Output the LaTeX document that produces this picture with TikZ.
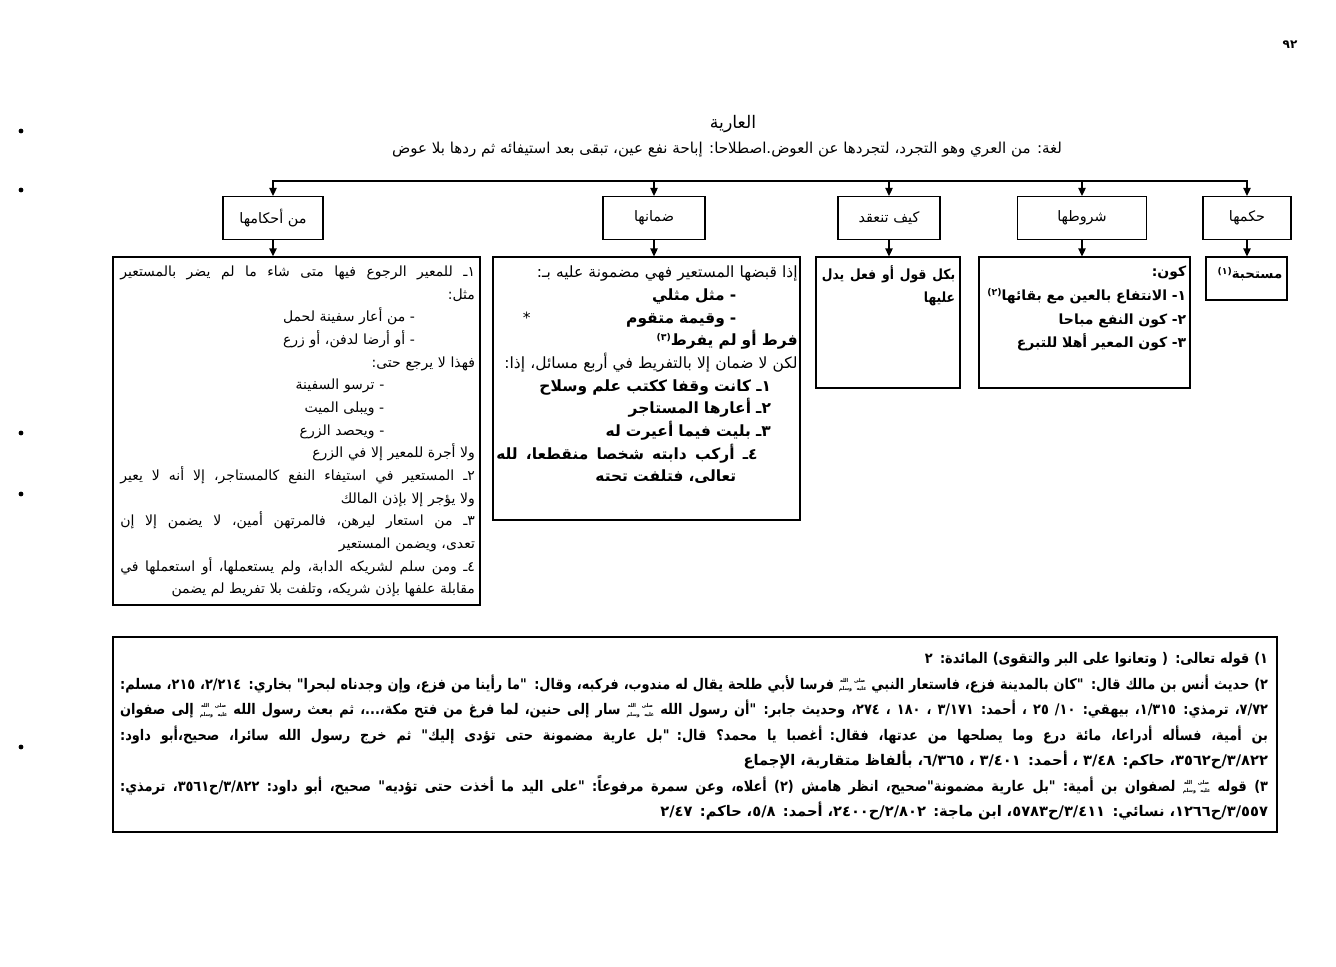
\documentclass[tikz,border=0pt]{standalone}
\usepackage{fontspec}
\usetikzlibrary{arrows.meta}
\TeXXeTstate=1
\newfontfamily\arabicfont[Script=Arabic]{DejaVu Sans}
\newfontfamily\notefont[Script=Arabic,FakeStretch=0.88]{DejaVu Sans}
\newcommand{\ar}[1]{\beginR #1\endR}
\newcommand{\arfull}[1]{\noindent\hbox to \hsize{\spaceskip=\fontdimen2\font plus 1fil\relax\beginR #1\endR}}
\newcommand{\fnmark}[1]{\raisebox{0.6ex}{\scriptsize(#1)}}
\newcommand{\saw}{\raisebox{-0.2ex}{\fontsize{4}{4.3}\selectfont\shortstack{\ar{صلى الله}\\\ar{عليه وسلم}}}}

\begin{document}
\begin{tikzpicture}[x=0.75pt,y=-0.75pt,
    headbox/.style={draw,line width=1.1pt,minimum height=32pt,inner sep=0pt,
      font=\arabicfont\fontsize{10.8}{12}\selectfont},
    framebox/.style={draw,line width=1.1pt,inner sep=0pt},
    boxtext/.style={anchor=north east,inner sep=0pt,align=right,
      font=\arabicfont\fontsize{10.5}{17}\selectfont},
    arr/.style={line width=1.1pt,-{Triangle[length=6pt,width=5.5pt]}}]
  \useasboundingbox (0,0) rectangle (1336,967);

  \foreach \y in {131,190,433,494,747}
    \fill (21,\y) circle (1.8pt);

  \node[font=\arabicfont\bfseries\fontsize{9}{10}\selectfont] (pagenum) at (1290,45) {٩٢};
  \node[font=\arabicfont\fontsize{13}{15}\selectfont] (title) at (733,124) {\ar{العارية}};
  \node[font=\arabicfont\fontsize{11.3}{13}\selectfont] (defline) at (727,150)
    {\ar{لغة: من العري وهو التجرد، لتجردها عن العوض.اصطلاحا: إباحة نفع عين، تبقى بعد استيفائه ثم ردها بلا عوض}};

  \node[headbox,minimum width=75pt] (ahkam) at (273,218) {\ar{من أحكامها}};
  \node[headbox,minimum width=76.5pt] (daman) at (654,218) {\ar{ضمانها}};
  \node[headbox,minimum width=76.5pt] (keef) at (889,218) {\ar{كيف تنعقد}};
  \node[headbox,minimum width=97pt] (shurut) at (1082,218) {\ar{شروطها}};
  \node[headbox,minimum width=66pt] (hukm) at (1247,218) {\ar{حكمها}};

  \coordinate (barwest) at (273,181);
  \coordinate (bareast) at (1247,181);
  \draw[line width=1.1pt,line cap=rect] (barwest) -- (bareast);

  \node[framebox,minimum width=275pt,minimum height=261pt] (ahkam-box) at (296.5,431) {};
  \node[framebox,minimum width=230pt,minimum height=197pt] (daman-box) at (646.5,388.5) {};
  \node[framebox,minimum width=108pt,minimum height=98pt] (keef-box) at (888,322.5) {};
  \node[framebox,minimum width=158pt,minimum height=98pt] (shurut-box) at (1084.5,322.5) {};
  \node[framebox,minimum width=61pt,minimum height=32pt] (hukm-box) at (1246.5,278.5) {};
  \node[framebox,minimum width=873pt,minimum height=146pt] (notes-box) at (695,734.5) {};

  \foreach \b in {ahkam,daman,keef,shurut,hukm}{
    \draw[arr] (\b.north |- barwest) -- (\b.north);
    \draw[arr] (\b.south) -- (\b.south |- \b-box.north);
  }

  \node[boxtext,text width=266pt] (ahkam-text) at ([xshift=-4pt,yshift=-7pt]ahkam-box.north east) {%
    \arfull{١ـ للمعير الرجوع فيها متى شاء ما لم يضر بالمستعير}\\
    \ar{مثل:}\\
    \ar{- من أعار سفينة لحمل}\kern45pt\\
    \ar{- أو أرضا لدفن، أو زرع}\kern45pt\\
    \ar{فهذا لا يرجع حتى:}\\
    \ar{- ترسو السفينة}\kern68pt\\
    \ar{- ويبلى الميت}\kern68pt\\
    \ar{- ويحصد الزرع}\kern68pt\\
    \ar{ولا أجرة للمعير إلا في الزرع}\\
    \arfull{٢ـ المستعير في استيفاء النفع كالمستاجر، إلا أنه لا يعير}\\
    \ar{ولا يؤجر إلا بإذن المالك}\\
    \arfull{٣ـ من استعار ليرهن، فالمرتهن أمين، لا يضمن إلا إن}\\
    \ar{تعدى، ويضمن المستعير}\\
    \arfull{٤ـ ومن سلم لشريكه الدابة، ولم يستعملها، أو استعملها في}\\
    \ar{مقابلة علفها بإذن شريكه، وتلفت بلا تفريط لم يضمن}};

  \node[boxtext,text width=226pt,font=\arabicfont\fontsize{11.6}{17}\selectfont]
    (daman-text) at ([xshift=-2pt,yshift=-7pt]daman-box.north east) {%
    \ar{إذا قبضها المستعير فهي مضمونة عليه بـ:}\\
    \textbf{\ar{- مثل مثلي}}\kern46pt\\
    \arfull{\hspace*{46pt}\textbf{- وقيمة متقوم}\hfill *\hspace*{20pt}}\\
    \textbf{\ar{فرط أو لم يفرط\fnmark{٣}}}\\
    \ar{لكن لا ضمان إلا بالتفريط في أربع مسائل، إذا:}\\
    \textbf{\ar{١ـ كانت وقفا ككتب علم وسلاح}}\kern20pt\\
    \textbf{\ar{٢ـ أعارها المستاجر}}\kern20pt\\
    \textbf{\ar{٣ـ بليت فيما أعيرت له}}\kern20pt\\
    \arfull{\hspace*{30pt}\textbf{٤ـ أركب دابته شخصا منقطعا، لله}}\\
    \textbf{\ar{تعالى، فتلفت تحته}}\kern46pt};

  \node[boxtext,text width=100pt,font=\notefont\bfseries\fontsize{10.5}{17}\selectfont]
    (keef-text) at ([xshift=-4pt,yshift=-7pt]keef-box.north east) {%
    \arfull{بكل قول أو فعل يدل}\\
    \ar{عليها}};

  \node[boxtext,text width=150pt,font=\arabicfont\bfseries\fontsize{10.5}{17.8}\selectfont]
    (shurut-text) at ([xshift=-3pt,yshift=-7pt]shurut-box.north east) {%
    \ar{كون:}\\
    \ar{١- الانتفاع بالعين مع بقائها\fnmark{٢}}\\
    \ar{٢- كون النفع مباحا}\\
    \ar{٣- كون المعير أهلا للتبرع}};

  \node[boxtext,font=\arabicfont\bfseries\fontsize{10}{12}\selectfont]
    (hukm-text) at ([xshift=-4pt,yshift=-8pt]hukm-box.north east) {\ar{مستحبة\fnmark{١}}};

  \node[boxtext,text width=861pt,font=\notefont\bfseries\fontsize{11}{19.1}\selectfont]
    (notes-text) at ([xshift=-7pt,yshift=-12pt]notes-box.north east) {%
    \ar{١) قوله تعالى: ( وتعانوا على البر والتقوى) المائدة: ٢}\\
    \arfull{٢) حديث أنس بن مالك قال: "كان بالمدينة فزع، فاستعار النبي \saw{} فرسا لأبي طلحة يقال له مندوب، فركبه، وقال: "ما رأينا من فزع، وإن وجدناه لبحرا" بخاري: ٢/٢١٤، ٢١٥، مسلم:}\\
    \arfull{٧/٧٢، ترمذي: ١/٣١٥، بيهقي: ١٠/ ٢٥ ، أحمد: ٣/١٧١ ، ١٨٠ ، ٢٧٤، وحديث جابر: "أن رسول الله \saw{} سار إلى حنين، لما فرغ من فتح مكة،...، ثم بعث رسول الله \saw{} إلى صفوان}\\
    \arfull{بن أمية، فسأله أدراعا، مائة درع وما يصلحها من عدتها، فقال: أغصبا يا محمد؟ قال: "بل عارية مضمونة حتى تؤدى إليك" ثم خرج رسول الله سائرا، صحيح،أبو داود:}\\
    {\arabicfont\ar{٣/٨٢٢/ح٣٥٦٢، حاكم: ٣/٤٨ ، أحمد: ٣/٤٠١ ، ٦/٣٦٥، بألفاظ متقاربة، الإجماع}}\\
    \arfull{٣) قوله \saw{} لصفوان بن أمية: "بل عارية مضمونة"صحيح، انظر هامش (٢) أعلاه، وعن سمرة مرفوعاً: "على اليد ما أخذت حتى تؤديه" صحيح، أبو داود: ٣/٨٢٢/ح٣٥٦١، ترمذي:}\\
    {\arabicfont\ar{٣/٥٥٧/ح١٢٦٦، نسائي: ٣/٤١١/ح٥٧٨٣، ابن ماجة: ٢/٨٠٢/ح٢٤٠٠، أحمد: ٥/٨، حاكم: ٢/٤٧}}};
\end{tikzpicture}
\end{document}
